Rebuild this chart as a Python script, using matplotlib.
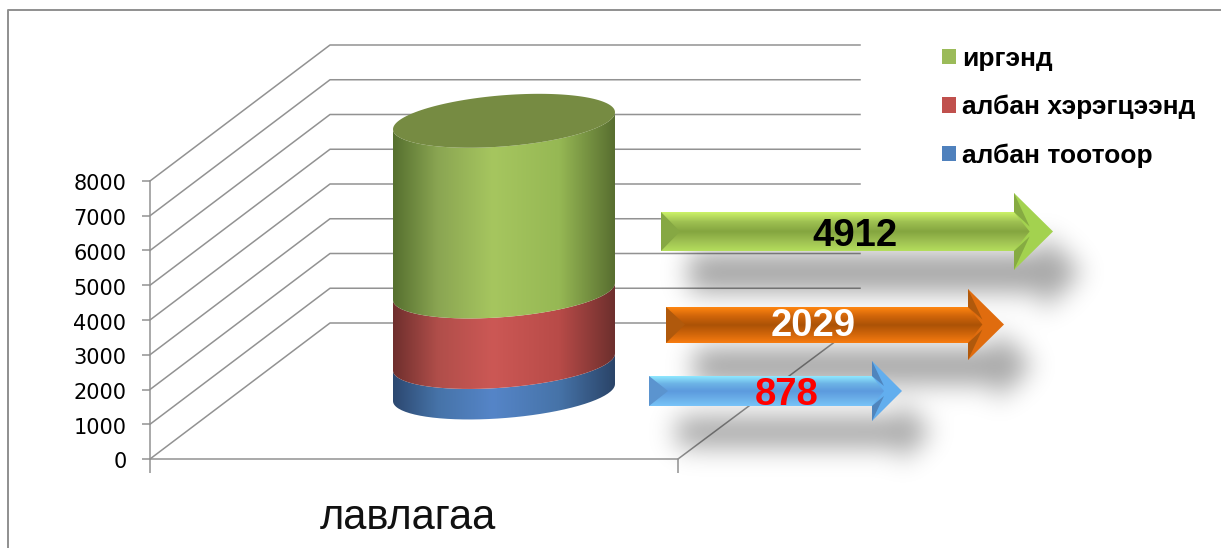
import numpy as np
import matplotlib
matplotlib.use('Agg')
import matplotlib.pyplot as plt
from matplotlib.colors import LinearSegmentedColormap
from matplotlib.lines import Line2D
from matplotlib.patches import Patch, PathPatch, Polygon
from matplotlib.path import Path
from matplotlib.transforms import ScaledTranslation

# data
category = 'лавлагаа'
series = ['албан тоотоор', 'албан хэрэгцээнд', 'иргэнд']
values = [878, 2029, 4912]
value_labels = ['878', '2029', '4912']
yticks = [0, 1000, 2000, 3000, 4000, 5000, 6000, 7000, 8000]

W, H = 1221, 548
Y0, PX_PER_UNIT = 459, 278 / 8000
GRID = '#929292'


def vy(py):
    # pixel row -> value on the y axis
    return (Y0 - py) / PX_PER_UNIT


fig = plt.figure(figsize=(W / 100, H / 100), dpi=100)
ax = fig.add_axes([150 / W, (H - Y0) / H, 528 / W, 278 / H])
ax.patch.set_visible(False)

# outer frame of the slide object
fig.add_artist(Line2D([8 / W, 8 / W, 1], [0, 1 - 10 / H, 1 - 10 / H], color='#8f8f8f', lw=1.4))

# back wall and side wall lines
depth_x, depth_y = 180, vy(Y0 - 136)
for v in yticks:
    ax.plot([150, 150 + depth_x, 860], [v, v + depth_y, v + depth_y], color=GRID, lw=1.1, clip_on=False, zorder=1)
ax.plot([678, 860], [0, depth_y], color=GRID, lw=1.1, clip_on=False, zorder=1)

ax.set_yticks(yticks)
ax.set_xticks([150, 678])
ax.set_xticklabels(['', ''])
ax.tick_params(axis='y', length=6, width=1.1, color=GRID, labelsize=15, pad=11)
ax.tick_params(axis='x', length=10, width=1.1, color=GRID)
down = ScaledTranslation(0, -1.5 / 100, fig.dpi_scale_trans)
for lbl in ax.get_yticklabels():
    lbl.set_transform(lbl.get_transform() + down)
for s in ['top', 'right']:
    ax.spines[s].set_visible(False)
for s in ['left', 'bottom']:
    ax.spines[s].set_color(GRID)
    ax.spines[s].set_linewidth(1.1)
ax.text(408, vy(518), category, fontsize=30, family='Liberation Sans', ha='center', va='center', color='#111111')

# arrows, one per series in the same order as values
arrows = [
    dict(x=(649, 872, 902), body=(376, 406), head=(361, 421), stops=['#8fe8ff', '#6db4e6', '#5c9ade', '#6aaee8', '#78c4f8'],
         notch='#5b94cf', facet='#4f85bd', tip='#62aeee', color='red', nudge=11, row=395),
    dict(x=(666, 968, 1004), body=(307, 343), head=(289, 360), stops=['#ff8610', '#d0650a', '#ab5206', '#d0650a', '#f87c10'],
         notch='#b0590c', facet='#b0590c', tip='#e06c0e', color='white', nudge=-22, row=326),
    dict(x=(661, 1014, 1053), body=(212, 251), head=(193, 270), stops=['#ccf268', '#9ec052', '#84a53f', '#9ec052', '#b4de5c'],
         notch='#86a843', facet='#86ab42', tip='#a3d24f', color='black', nudge=-2, row=236),
]


def arrow_outline(a):
    x0, x1, x2 = a['x']
    t, b = a['body']
    ht, hb = a['head']
    return [(x0, t), (x1, t), (x1, ht), (x2, (ht + hb) / 2), (x1, hb), (x1, b), (x0, b)]


# shadows under the arrows, blurred on a pixel grid
gx, gy = np.meshgrid(np.arange(600, 1170), np.arange(170, 520))
pts = np.column_stack([gx.ravel(), gy.ravel()])
mask = np.zeros(gx.shape)
for a in arrows:
    shifted = [(x + 28, y + 40) for x, y in arrow_outline(a)]
    mask = np.maximum(mask, Path(shifted).contains_points(pts).reshape(gx.shape).astype(float))
kx = np.exp(-np.arange(-45, 46) ** 2 / (2 * 13.0 ** 2))
kx /= kx.sum()
mask = np.apply_along_axis(lambda r: np.convolve(r, kx, mode='same'), 1, mask)
mask = np.apply_along_axis(lambda c: np.convolve(c, kx, mode='same'), 0, mask)
shadow = np.zeros(gx.shape + (4,))
shadow[..., 3] = mask * 0.36
sh = ax.imshow(shadow, extent=(600, 1170, vy(520), vy(170)), aspect='auto', origin='upper', zorder=2)
sh.set_clip_on(False)


def poly_px(points, **kw):
    return Polygon([(x, vy(y)) for x, y in points], closed=True, clip_on=False, lw=0, **kw)


for a, label in zip(arrows, value_labels):
    x0, x1, x2 = a['x']
    t, b = a['body']
    ht, hb = a['head']
    c = (ht + hb) / 2
    cmap = LinearSegmentedColormap.from_list('v', a['stops'])
    x_in = x1 + (x2 - x1) * 0.4
    ax.add_patch(poly_px(arrow_outline(a), fc=a['tip'], zorder=3))
    im = ax.imshow(np.linspace(0, 1, 128)[:, None], extent=(x0, x_in, vy(b), vy(t)), aspect='auto', origin='upper',
                   cmap=cmap, zorder=3.2)
    body = poly_px([(x0, t), (x1, t), (x_in, c), (x1, b), (x0, b)], fc='none')
    ax.add_patch(body)
    im.set_clip_path(body)
    im.set_clip_box(fig.bbox)
    ax.add_patch(poly_px([(x1, ht), (x_in, c - 5), (x1, t)], fc=a['facet'], zorder=3.4))
    ax.add_patch(poly_px([(x1, hb), (x_in, c + 5), (x1, b)], fc=a['facet'], zorder=3.4))
    ax.add_patch(poly_px([(x0, t), (x0 + 19, c), (x0, b)], fc=a['notch'], zorder=3.4))
    ax.text((x0 + x2) / 2 + a['nudge'], vy(a['row']), label, fontsize=27.5, fontweight='bold',
            family='Liberation Sans', color=a['color'], ha='center', va='center', zorder=4)

# cylinder, stacked from the values
cx, rx, ry, tilt = 504, 111, 25.6, 8.5
base = vy(392.5)
side_stops = [
    [(0, '#2c4870'), (0.2, '#4673a8'), (0.45, '#5585c8'), (0.75, '#4673a8'), (1, '#2a4468')],
    [(0, '#6f2f2d'), (0.2, '#b04e4a'), (0.45, '#cc5855'), (0.75, '#b84b48'), (1, '#6d2f2d')],
    [(0, '#56702f'), (0.2, '#8aa552'), (0.45, '#a6c65f'), (0.75, '#96b854'), (1, '#586e30')],
]
t_front = np.linspace(np.pi, 0, 80)


def rim(v, th):
    xs = cx + rx * np.cos(th)
    ys = v + (-tilt * np.cos(th) + ry * np.sin(th)) / -PX_PER_UNIT
    return np.column_stack([xs, ys])


bottom = base
for val, stops in zip(values, side_stops):
    top = bottom + val
    outline = np.vstack([rim(bottom, t_front), rim(top, t_front[::-1])])
    clip = PathPatch(Path(np.vstack([outline, outline[:1]])), fc='none', lw=0, clip_on=False)
    ax.add_patch(clip)
    cm = LinearSegmentedColormap.from_list('side', stops)
    im = ax.imshow(np.linspace(0, 1, 256)[None, :], extent=(cx - rx, cx + rx, bottom - 60 / PX_PER_UNIT, top + 60 / PX_PER_UNIT),
                   aspect='auto', cmap=cm, zorder=2.5)
    im.set_clip_path(clip)
    im.set_clip_box(fig.bbox)
    bottom = top
ax.fill(*rim(bottom, np.linspace(0, 2 * np.pi, 160)).T, fc='#768b42', lw=0, zorder=2.6, clip_on=False)

ax.set_xlim(150, 678)
ax.set_ylim(0, 8000)

handles = [Patch(fc=c, lw=0) for c in ['#9bbb59', '#c0504d', '#4f81bd']]
fig.legend(handles, series[::-1], loc='upper left', bbox_to_anchor=(942 / W, 1 - 47 / H), frameon=False,
           prop={'family': 'Liberation Sans', 'weight': 'bold', 'size': 19}, handlelength=0.53, handleheight=0.53,
           handletextpad=0.22, labelspacing=0.91, borderpad=0, borderaxespad=0)

fig.savefig('out.png', dpi=100)
